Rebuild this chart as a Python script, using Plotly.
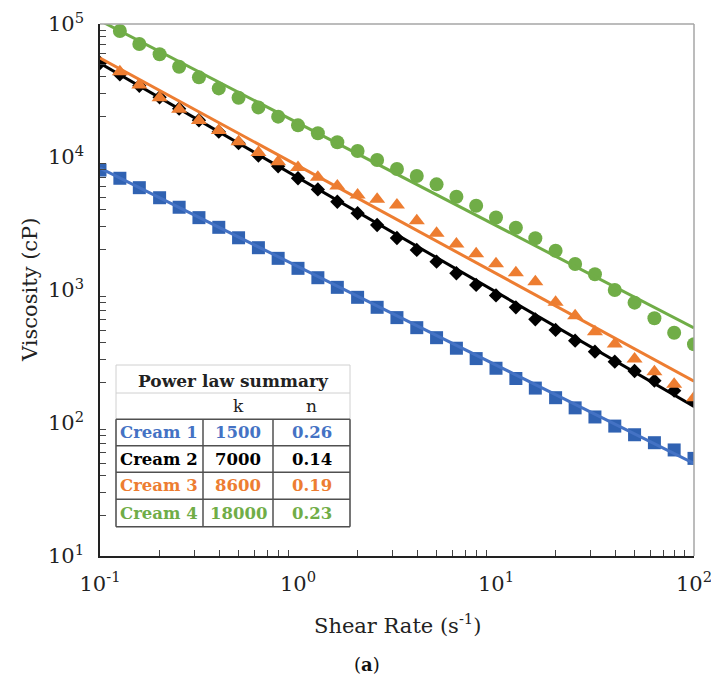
import plotly.graph_objects as go

# ---------------- data ----------------
shear_rate = [0.1, 0.126, 0.158, 0.2, 0.251, 0.316, 0.398, 0.501, 0.631, 0.794,
              1.0, 1.26, 1.58, 2.0, 2.51, 3.16, 3.98, 5.01, 6.31, 7.94,
              10.0, 12.6, 15.8, 20.0, 25.1, 31.6, 39.8, 50.1, 63.1, 79.4, 100.0]

cream1 = [7980, 6920, 5880, 4940, 4190, 3500, 2960, 2470, 2080, 1730,
          1455, 1237, 1047, 881, 741, 620, 521, 438, 365, 305,
          258, 216, 183, 155, 130, 111, 94.8, 81.6, 71.1, 62.7, 54.2]

cream2 = [50900, 41800, 34300, 28100, 23100, 18900, 15500, 12700, 10250, 8510,
          6920, 5700, 4610, 3780, 3080, 2460, 2000, 1633, 1336, 1092,
          910, 741, 602, 501, 416, 344, 289, 246, 208, 175, 146]

cream3 = [None, 43800, 34800, 27900, 22900, 18800, 15800, 13000, 10800, 9220,
          8320, 7040, 6050, 5180, 4810, 4360, 3320, 2670, 2220, 1870,
          1574, 1349, 1154, 809, 641, 486, 392, 303, 243, 196, 155]

cream4 = [None, 88600, 70800, 59200, 47700, 39700, 32800, 27900, 23600, 20100,
          17300, 15100, 12900, 11100, 9490, 8120, 7200, 6230, 5030, 4300,
          3510, 2940, 2450, 1975, 1567, 1312, 1000, 803, 613, 477, 391]

names = ["Cream 1", "Cream 2", "Cream 3", "Cream 4"]
k_values = [1500, 7000, 8600, 18000]
n_values = [0.26, 0.14, 0.19, 0.23]

fit_x = [0.1, 100.0]

x_tick_vals = [0.1, 1, 10, 100]
x_tick_text = ["10<sup>-1</sup>", "10<sup>0</sup>", "10<sup>1</sup>", "10<sup>2</sup>"]
y_tick_vals = [10, 100, 1000, 10000, 100000]
y_tick_text = ["10<sup>1</sup>", "10<sup>2</sup>", "10<sup>3</sup>", "10<sup>4</sup>", "10<sup>5</sup>"]

# ---------------- styles ----------------
marker_colors = ["#3062B2", "#000000", "#ED7D31", "#70AD47"]
line_colors = ["#4472C4", "#000000", "#ED7D31", "#70AD47"]
text_colors = ["#4472C4", "#000000", "#ED7D31", "#70AD47"]
symbols = ["square", "diamond", "triangle-up", "circle"]
sizes = [13, 11, 14, 14]
FONT = "DejaVu Serif"

fig = go.Figure()
series = [cream1, cream2, cream3, cream4]
for i, ys in enumerate(series):
    fig.add_trace(go.Scatter(
        x=shear_rate, y=ys, mode="markers",
        marker=dict(symbol=symbols[i], size=sizes[i], color=marker_colors[i],
                    line=dict(width=0)),
        showlegend=False, hoverinfo="skip"))
    fit_y = [k_values[i] * xv ** (n_values[i] - 1) for xv in fit_x]
    fig.add_trace(go.Scatter(
        x=fit_x, y=fit_y, mode="lines",
        line=dict(color=line_colors[i], width=3),
        showlegend=False, hoverinfo="skip"))

# minor tick positions
x_minor = [m * 10 ** d for d in range(-1, 2) for m in range(2, 10)]
y_minor = [m * 10 ** d for d in range(1, 5) for m in range(2, 10)]

fig.update_xaxes(
    type="log", range=[-1, 2], automargin=False,
    tickmode="array", tickvals=x_tick_vals, ticktext=x_tick_text,
    ticks="", showgrid=False, zeroline=False,
    showline=True, linecolor="#222222", linewidth=1.5,
    tickfont=dict(family=FONT, size=21, color="#222222"),
    ticklabelstandoff=8, ticklabeloverflow="allow",
    minor=dict(tickmode="array", tickvals=x_minor, ticks="inside",
               ticklen=6, tickwidth=1, tickcolor="#444444", showgrid=False),
)
fig.update_yaxes(
    type="log", range=[1, 5], automargin=False,
    tickmode="array", tickvals=y_tick_vals, ticktext=y_tick_text,
    ticks="", showgrid=False, zeroline=False,
    showline=True, linecolor="#222222", linewidth=1.5,
    tickfont=dict(family=FONT, size=21, color="#222222"),
    ticklabelstandoff=10, ticklabeloverflow="allow",
    minor=dict(tickmode="array", tickvals=y_minor, ticks="inside",
               ticklen=6, tickwidth=1, tickcolor="#444444", showgrid=False),
)

# plot area on the page: x 100..694, y 24..556
L, R, T, B = 100, 694, 24, 556
FIG_W, FIG_H = 711, 686
def px(x):
    return (x - L) / (R - L)
def py(y):
    return (B - y) / (B - T)

shapes = []
shapes.append(dict(type="line", xref="paper", yref="paper", x0=0, x1=1, y0=1, y1=1,
                   line=dict(color="#A6A6A6", width=1.5)))
shapes.append(dict(type="line", xref="paper", yref="paper", x0=1, x1=1, y0=0, y1=1,
                   line=dict(color="#A6A6A6", width=1.5)))

# table geometry (page pixels)
tx0, tx1 = 116, 350
t_top, t_title_bot = 365, 393
row_lines = [419.3, 445.7, 472.3, 499.3, 526.7]
col_lines = [116, 203, 273, 350]

shapes.append(dict(type="rect", xref="paper", yref="paper",
                   x0=px(tx0), x1=px(tx1), y0=py(row_lines[-1]), y1=py(t_top),
                   fillcolor="white", line=dict(color="#D0D0D0", width=1), layer="above"))
shapes.append(dict(type="line", xref="paper", yref="paper",
                   x0=px(tx0), x1=px(tx1), y0=py(t_title_bot), y1=py(t_title_bot),
                   line=dict(color="#D0D0D0", width=1), layer="above"))
for yl in row_lines:
    shapes.append(dict(type="line", xref="paper", yref="paper",
                       x0=px(tx0), x1=px(tx1), y0=py(yl), y1=py(yl),
                       line=dict(color="#505050", width=1.5), layer="above"))
for xl in col_lines:
    shapes.append(dict(type="line", xref="paper", yref="paper",
                       x0=px(xl), x1=px(xl), y0=py(row_lines[0]), y1=py(row_lines[-1]),
                       line=dict(color="#505050", width=1.5), layer="above"))

annotations = []
def ann(text, x, y, size, color="#222222", xanchor="center", angle=0):
    annotations.append(dict(text=text, x=x, y=y, xref="paper", yref="paper",
                            showarrow=False, xanchor=xanchor, yanchor="middle",
                            textangle=angle,
                            font=dict(family=FONT, size=size, color=color)))

ann("<b>Power law summary</b>", px((tx0 + tx1) / 2), py(381), 17)
ann("k", px(238), py(406), 17)
ann("n", px(311.5), py(406), 17)
for i in range(4):
    yc = (row_lines[i] + row_lines[i + 1]) / 2
    ann("<b>%s</b>" % names[i], px(118), py(yc), 16.5, text_colors[i], xanchor="left")
    ann("<b>%d</b>" % k_values[i], px(238), py(yc), 16.5, text_colors[i])
    ann("<b>%.2f</b>" % n_values[i], px(311.5), py(yc), 16.5, text_colors[i])

ann("Viscosity (cP)", px(30), 0.5, 21, angle=-90)
ann("Shear Rate (s<sup>-1</sup>)", 0.5, py(624), 21)
ann("(<b>a</b>)", px(367), py(664), 18, color="#111111")

fig.update_layout(
    width=FIG_W, height=FIG_H,
    margin=dict(l=L, r=FIG_W - R, t=T, b=FIG_H - B, autoexpand=False),
    paper_bgcolor="white", plot_bgcolor="white",
    shapes=shapes, annotations=annotations,
    showlegend=False,
)

fig.write_html("out.html",
               config={"displayModeBar": False},
               post_script="document.body.style.margin='0px';"
                           "document.body.style.overflow='hidden';")
